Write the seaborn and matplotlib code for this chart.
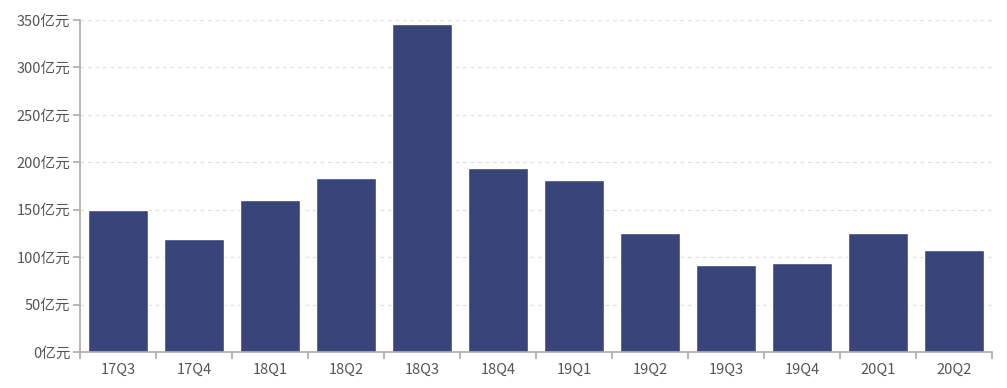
import numpy as np
import pandas as pd
import matplotlib
matplotlib.use('Agg')
import matplotlib.pyplot as plt
import seaborn as sns
from matplotlib.ticker import FixedLocator

quarters = ['17Q3', '17Q4', '18Q1', '18Q2', '18Q3', '18Q4',
            '19Q1', '19Q2', '19Q3', '19Q4', '20Q1', '20Q2']
values = [149.5, 119, 160, 183, 346, 194, 181, 125, 92, 94, 125, 107.5]
yticks = [0, 50, 100, 150, 200, 250, 300, 350]

df = pd.DataFrame({'quarter': quarters, 'value': values})

sns.set_style('white')
plt.rcParams['font.family'] = ['Noto Sans CJK SC', 'DejaVu Sans']

fig = plt.figure(figsize=(10.07, 3.88), dpi=100)
ax = fig.add_axes([80/1007, 36/388, 912/1007, 332/388])

sns.barplot(data=df, x='quarter', y='value', color='#38447a',
            saturation=1, width=0.8, ax=ax)

ax.set_xlim(-0.5, len(quarters) - 0.5)
ax.set_ylim(0, 350)
ax.set_yticks(yticks)
ax.set_yticklabels([f'{v}亿元' for v in yticks])
ax.set_xlabel('')
ax.set_ylabel('')

ax.yaxis.grid(True, color='#e0e0e0', linestyle=(0, (3, 3)), linewidth=0.9)
ax.set_axisbelow(True)

for s in ['top', 'right']:
    ax.spines[s].set_visible(False)
for s in ['left', 'bottom']:
    ax.spines[s].set_color('#aaaaaa')
    ax.spines[s].set_linewidth(1.2)

ax.tick_params(axis='x', which='major', length=0, pad=8, bottom=True,
               labelsize=10.5, labelcolor='#555555')
ax.xaxis.set_minor_locator(FixedLocator(np.arange(-0.5, len(quarters), 1)))
ax.tick_params(axis='x', which='minor', length=5, color='#aaaaaa', width=1.2,
               bottom=True)
ax.tick_params(axis='y', length=5, color='#aaaaaa', width=1.2, pad=2, left=True,
               labelsize=10.5, labelcolor='#555555')

fig.savefig('out.png', dpi=100)
